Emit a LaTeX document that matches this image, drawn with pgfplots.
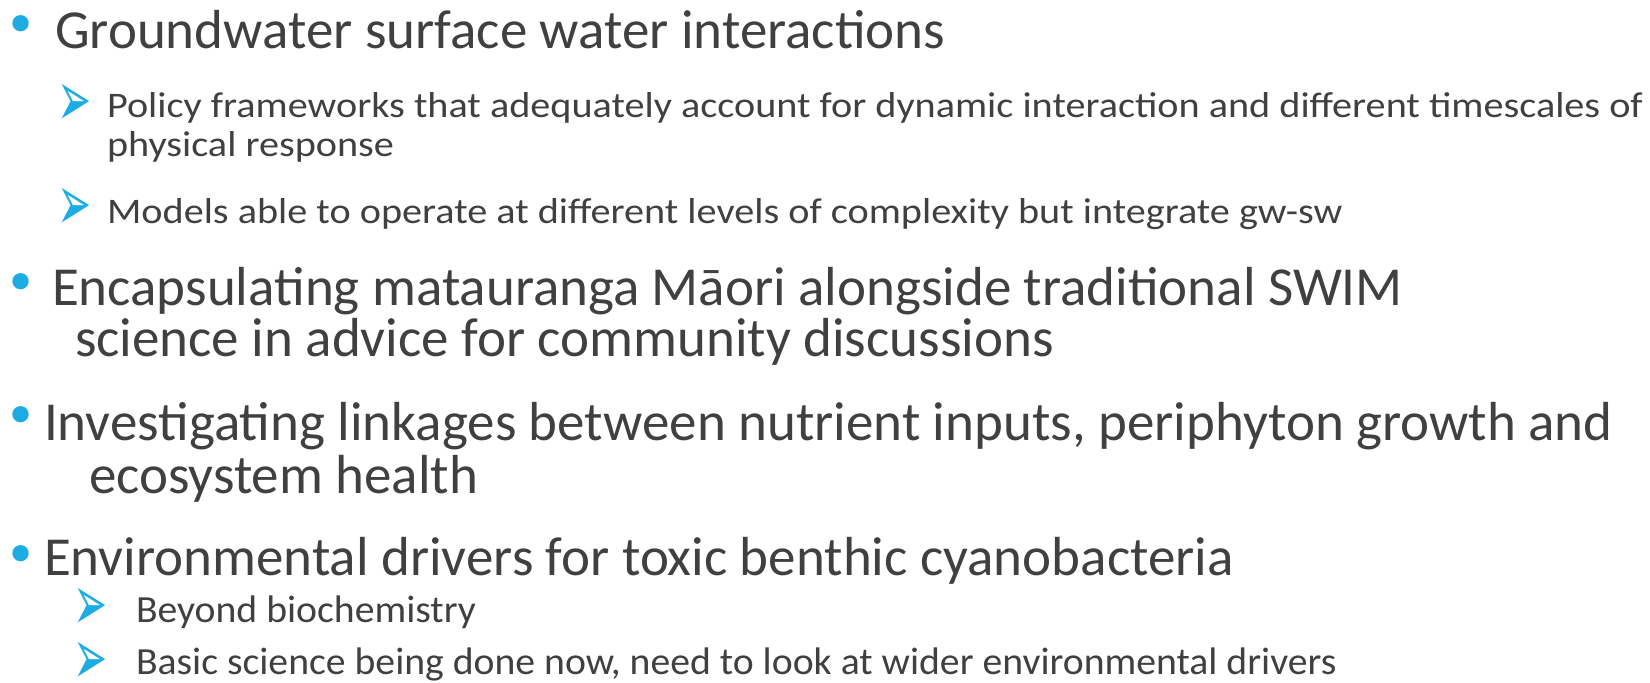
\documentclass[border=0pt]{standalone}
\usepackage{fontspec}
\setmainfont{Carlito}
\newfontfamily\dejavu{DejaVu Sans}
\usepackage{graphicx}
\usepackage{pgfplots}
\pgfplotsset{compat=1.18}
\definecolor{txt}{HTML}{404040}
\definecolor{blu}{HTML}{1EABE3}
\newcommand{\bigsz}{\fontsize{27.5}{30}\selectfont}
\newcommand{\topsub}[1]{\scalebox{1.117}[1]{\fontsize{18}{20}\selectfont #1}}
\newcommand{\botsub}[1]{\scalebox{1.034}[1]{\fontsize{19.2}{21}\selectfont #1}}
\newcommand{\bul}{\dejavu\fontsize{28}{30}\selectfont •}
\newcommand{\arr}{\scalebox{0.85}[1.65]{\dejavu\fontsize{24}{26}\selectfont ➢}}
\begin{document}
\begin{tikzpicture}
\begin{axis}[width=825pt,height=341.5pt,scale only axis,
  xmin=0,xmax=1650,ymin=0,ymax=683,y dir=reverse,
  axis lines=none,clip=false,
  every node/.style={inner sep=0pt,outer sep=0pt}]
\path (axis cs:0,0) rectangle (axis cs:1650,683);
% bullets
\node[blu,anchor=center] at (axis cs:20.7,30) {\bul};
\node[blu,anchor=center] at (axis cs:20.7,288) {\bul};
\node[blu,anchor=center] at (axis cs:20.7,421) {\bul};
\node[blu,anchor=center] at (axis cs:20.7,560) {\bul};
% arrows
\node[blu,anchor=center] at (axis cs:74.5,105) {\arr};
\node[blu,anchor=center] at (axis cs:74.5,209.5) {\arr};
\node[blu,anchor=center] at (axis cs:90.8,609.5) {\arr};
\node[blu,anchor=center] at (axis cs:90.8,663) {\arr};
% text
\node[txt,anchor=base west] at (axis cs:48,48.3) {\bigsz Groundwater surface water interactions};
\node[txt,anchor=base west] at (axis cs:100,118) {\topsub{Policy frameworks that adequately account for dynamic interaction and different timescales of}};
\node[txt,anchor=base west] at (axis cs:100,157) {\topsub{physical response}};
\node[txt,anchor=base west] at (axis cs:100,224) {\topsub{Models able to operate at different levels of complexity but integrate gw-sw}};
\node[txt,anchor=base west] at (axis cs:45,305.7) {\bigsz Encapsulating matauranga Māori alongside traditional SWIM};
\node[txt,anchor=base west] at (axis cs:68,357) {\bigsz science in advice for community discussions};
\node[txt,anchor=base west] at (axis cs:37,440.7) {\bigsz Investigating linkages between nutrient inputs, periphyton growth and};
\node[txt,anchor=base west] at (axis cs:82,494) {\bigsz ecosystem health};
\node[txt,anchor=base west] at (axis cs:37,576) {\bigsz Environmental drivers for toxic benthic cyanobacteria};
\node[txt,anchor=base west] at (axis cs:129,623) {\botsub{Beyond biochemistry}};
\node[txt,anchor=base west] at (axis cs:129,675) {\botsub{Basic science being done now, need to look at wider environmental drivers}};
\end{axis}
\pgfresetboundingbox
\path[use as bounding box] (current axis.south west) rectangle (current axis.north east);
\end{tikzpicture}
\end{document}
